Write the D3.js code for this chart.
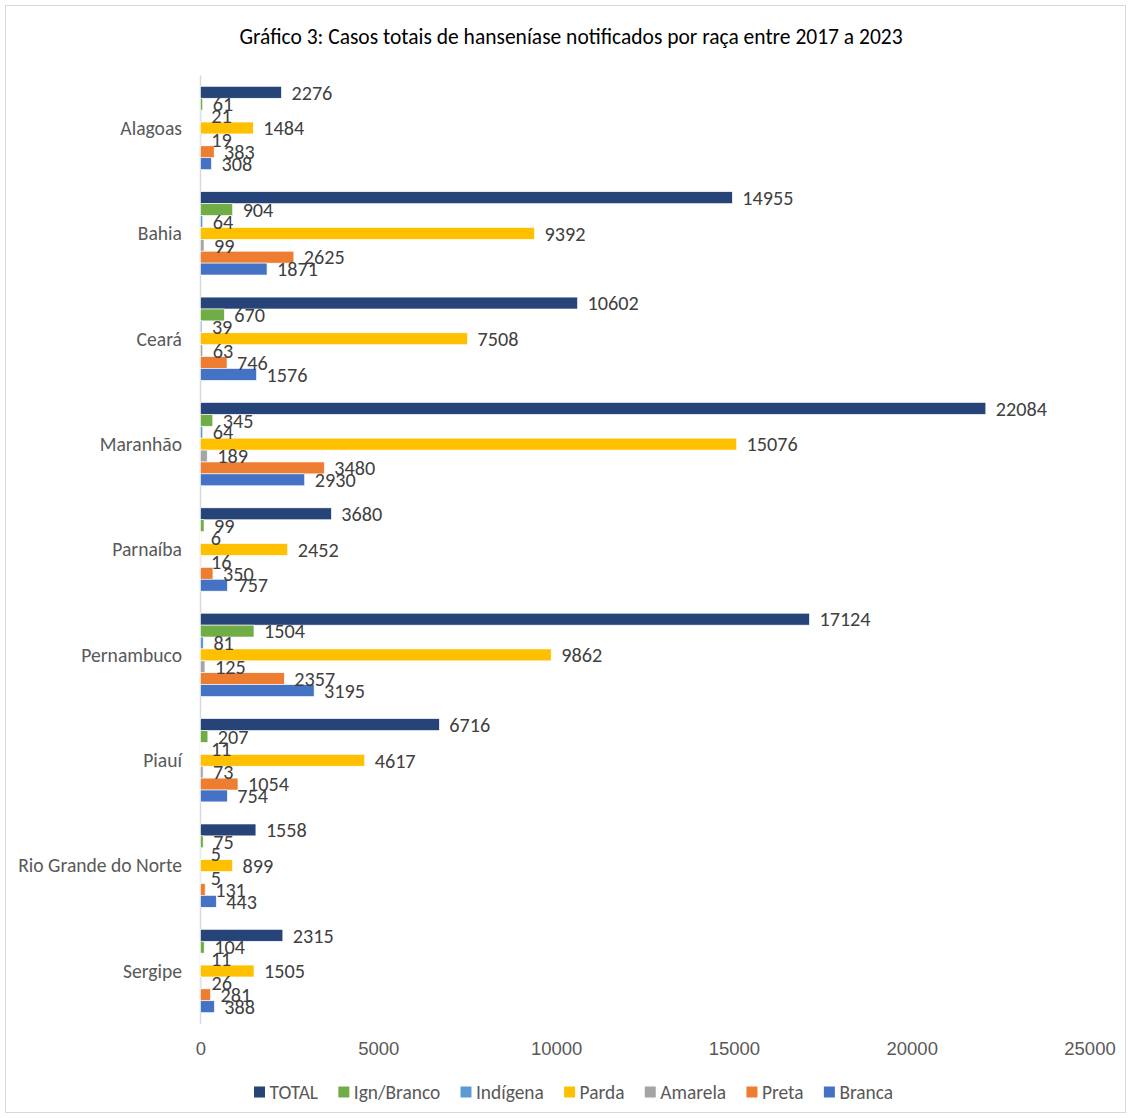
<!DOCTYPE html>
<html>
<head>
<meta charset="utf-8">
<script src="https://cdn.jsdelivr.net/npm/d3@7"></script>
<style>
  html, body { margin: 0; padding: 0; background: #fff; }
  svg { display: block; font-family: Calibri, Carlito, Lato, "Open Sans", sans-serif; }
</style>
</head>
<body>
<svg id="chart" width="1131" height="1118"></svg>
<script>
// States (categories), top to bottom
const states = ["Alagoas", "Bahia", "Ceará", "Maranhão", "Parnaíba", "Pernambuco", "Piauí", "Rio Grande do Norte", "Sergipe"];

// Series, in the order drawn inside each group (top to bottom)
const seriesNames = ["TOTAL", "Ign/Branco", "Indígena", "Parda", "Amarela", "Preta", "Branca"];
const seriesColors = ["#264478", "#70AD47", "#5B9BD5", "#FFC000", "#A5A5A5", "#ED7D31", "#4472C4"];

// Notified cases per state for each series
const total     = [2276, 14955, 10602, 22084, 3680, 17124, 6716, 1558, 2315];
const ignBranco = [61, 904, 670, 345, 99, 1504, 207, 75, 104];
const indigena  = [21, 64, 39, 64, 6, 81, 11, 5, 11];
const parda     = [1484, 9392, 7508, 15076, 2452, 9862, 4617, 899, 1505];
const amarela   = [19, 99, 63, 189, 16, 125, 73, 5, 26];
const preta     = [383, 2625, 746, 3480, 350, 2357, 1054, 131, 281];
const branca    = [308, 1871, 1576, 2930, 757, 3195, 754, 443, 388];

const seriesValues = [total, ignBranco, indigena, parda, amarela, preta, branca];

// Axis ticks
const xTicks = [0, 5000, 10000, 15000, 20000, 25000];

const titleText = "Gráfico 3: Casos totais de hanseníase notificados por raça entre 2017 a 2023";

const svg = d3.select("#chart");
const W = 1131, H = 1118;

// Outer frame
svg.append("rect")
  .attr("x", 5.5).attr("y", 5.5)
  .attr("width", W - 11).attr("height", H - 11)
  .attr("fill", "#fff").attr("stroke", "#D9D9D9").attr("stroke-width", 1);

// Title
svg.append("text")
  .attr("x", 571).attr("y", 44)
  .attr("text-anchor", "middle")
  .attr("font-size", 21.5)
  .attr("fill", "#000")
  .text(titleText);

const plot = { left: 200.5, right: 1089.5, top: 75.3, bottom: 1023.7 };

const x = d3.scaleLinear().domain([0, 25000]).range([plot.left, plot.right]);
const y = d3.scaleBand().domain(states).range([plot.top, plot.bottom]).paddingInner(0).paddingOuter(0);
const innerPad = (y.bandwidth() - 83.3) / 2;
const y1 = d3.scaleBand().domain(seriesNames).range([innerPad, y.bandwidth() - innerPad]).padding(0);

// Category axis line
svg.append("line")
  .attr("x1", plot.left).attr("x2", plot.left)
  .attr("y1", plot.top).attr("y2", plot.bottom)
  .attr("stroke", "#D9D9D9").attr("stroke-width", 1.5);

// Category labels
svg.append("g").selectAll("text")
  .data(states).join("text")
  .attr("x", 182)
  .attr("y", d => y(d) + y.bandwidth() / 2)
  .attr("dy", "0.35em")
  .attr("text-anchor", "end")
  .attr("font-size", 19.6)
  .attr("fill", "#595959")
  .text(d => d);

// Bars and value labels, one group per state
const rows = states.map((s, i) => ({
  state: s,
  items: seriesNames.map((n, k) => ({ name: n, value: seriesValues[k][i], color: seriesColors[k] }))
}));

const groups = svg.append("g").selectAll("g")
  .data(rows).join("g")
  .attr("transform", d => `translate(0,${y(d.state)})`);

groups.selectAll("rect")
  .data(d => d.items).join("rect")
  .attr("x", x(0))
  .attr("y", d => y1(d.name))
  .attr("width", d => x(d.value) - x(0))
  .attr("height", y1.bandwidth())
  .attr("fill", d => d.color)
  .attr("stroke", "#fff").attr("stroke-width", 0.6);

groups.selectAll("text")
  .data(d => d.items).join("text")
  .attr("x", d => x(d.value) + 10)
  .attr("y", d => y1(d.name) + y1.bandwidth() / 2)
  .attr("dy", "0.36em")
  .attr("font-size", 20.2)
  .attr("fill", "#404040")
  .text(d => d.value);

// Value axis tick labels
const xAxis = d3.axisBottom(x).tickValues(xTicks).tickSize(0).tickFormat(d3.format("d"));
const xg = svg.append("g")
  .attr("transform", `translate(0,${plot.bottom})`)
  .call(xAxis);
xg.select(".domain").remove();
xg.selectAll("text")
  .attr("y", 25)
  .attr("dy", "0.35em")
  .attr("font-size", 18.5)
  .attr("font-family", null)
  .attr("fill", "#595959");

// Legend
const legend = svg.append("g");
let lx = 254;
const ly = 1092;
seriesNames.forEach((n, k) => {
  legend.append("rect")
    .attr("x", lx).attr("y", ly - 5.5)
    .attr("width", 11).attr("height", 11)
    .attr("fill", seriesColors[k]);
  const t = legend.append("text")
    .attr("x", lx + 15.5).attr("y", ly)
    .attr("dy", "0.35em")
    .attr("font-size", 19.4)
    .attr("fill", "#595959")
    .text(n);
  lx += 15.5 + t.node().getComputedTextLength() + 20.3;
});
</script>
</body>
</html>
